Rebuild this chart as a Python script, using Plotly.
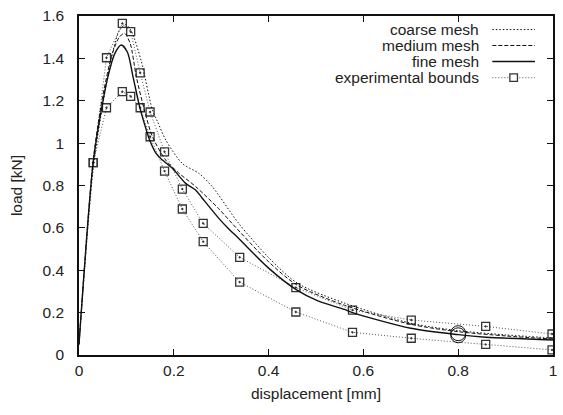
import plotly.graph_objects as go

# Load-displacement curves for three mesh refinements
coarse_x = [0, 0.03, 0.05, 0.07, 0.085, 0.098, 0.11, 0.131, 0.155, 0.166, 0.183, 0.218,
            0.253, 0.281, 0.337, 0.40, 0.46, 0.56, 0.70, 0.80, 0.90, 1.0]
coarse_y = [0.05, 0.88, 1.18, 1.42, 1.53, 1.56, 1.53, 1.39, 1.156, 1.10, 1.015, 0.904,
            0.857, 0.795, 0.621, 0.46, 0.34, 0.245, 0.15, 0.115, 0.095, 0.08]

medium_x = [0, 0.03, 0.05, 0.07, 0.085, 0.096, 0.108, 0.121, 0.138, 0.155, 0.183, 0.21,
            0.246, 0.295, 0.323, 0.40, 0.46, 0.56, 0.70, 0.80, 0.90, 1.0]
medium_y = [0.05, 0.92, 1.22, 1.42, 1.50, 1.518, 1.47, 1.313, 1.156, 1.03, 0.92, 0.86,
            0.795, 0.69, 0.621, 0.44, 0.33, 0.235, 0.145, 0.11, 0.09, 0.075]

fine_x = [0, 0.03, 0.047, 0.061, 0.075, 0.089, 0.102, 0.114, 0.128, 0.142, 0.149, 0.163,
          0.176, 0.197, 0.225, 0.246, 0.26, 0.295, 0.316, 0.337, 0.40, 0.459, 0.504,
          0.56, 0.577, 0.70, 0.80, 0.858, 1.0]
fine_y = [0.05, 0.91, 1.156, 1.313, 1.42, 1.463, 1.43, 1.313, 1.171, 1.062, 1.015, 0.95,
          0.92, 0.881, 0.81, 0.779, 0.74, 0.645, 0.595, 0.55, 0.41, 0.307, 0.255,
          0.215, 0.20, 0.126, 0.096, 0.084, 0.071]

# Experimental upper and lower bounds
exp_x = [0.03, 0.058, 0.0914, 0.109, 0.129, 0.150, 0.1805, 0.218, 0.262, 0.339, 0.4575,
         0.577, 0.701, 0.858, 0.998]
exp_upper = [0.9075, 1.403, 1.565, 1.526, 1.332, 1.147, 0.959, 0.783, 0.621, 0.461, 0.318,
             0.212, 0.165, 0.135, 0.099]
exp_lower = [0.9075, 1.167, 1.243, 1.221, 1.167, 1.030, 0.868, 0.689, 0.535, 0.344, 0.203,
             0.107, 0.079, 0.050, 0.024]

# Marked points on the fine-mesh curve
mark_x = [0.8, 0.8]
mark_y = [0.103, 0.093]

x_ticks = [0, 0.2, 0.4, 0.6, 0.8, 1.0]
x_labels = ["0", "0.2", "0.4", "0.6", "0.8", "1"]
y_ticks = [0, 0.2, 0.4, 0.6, 0.8, 1.0, 1.2, 1.4, 1.6]
y_labels = ["0", "0.2", "0.4", "0.6", "0.8", "1", "1.2", "1.4", "1.6"]

legend_labels = ["coarse mesh", "medium mesh", "fine mesh", "experimental bounds"]

FONT = "Liberation Sans, Arial, sans-serif"
FS = 15.5
BLACK = "#111111"
GREY = "#555555"
TEXT = "#222222"

fig = go.Figure()

for ey in (exp_upper, exp_lower):
    fig.add_trace(go.Scatter(
        x=exp_x, y=ey, mode="lines+markers",
        line=dict(color=GREY, width=1, dash="1px,2px"),
        marker=dict(symbol="square-open-dot", size=8, color="#333333",
                    line=dict(width=1.3, color="#333333")),
        showlegend=False))

fig.add_trace(go.Scatter(
    x=coarse_x, y=coarse_y, mode="lines",
    line=dict(color=BLACK, width=1, dash="1.5px,2px", shape="spline", smoothing=0.8),
    showlegend=False))
fig.add_trace(go.Scatter(
    x=medium_x, y=medium_y, mode="lines",
    line=dict(color=BLACK, width=1, dash="4px,2px", shape="spline", smoothing=0.8),
    showlegend=False))
fig.add_trace(go.Scatter(
    x=fine_x, y=fine_y, mode="lines",
    line=dict(color=BLACK, width=1.4, shape="spline", smoothing=0.8),
    showlegend=False))
fig.add_trace(go.Scatter(
    x=mark_x, y=mark_y, mode="markers",
    marker=dict(symbol="circle-open", size=15, color=BLACK, line=dict(width=1)),
    showlegend=False))

# Key in the upper-right corner: right-aligned labels with line samples after them
rows_y = [0.960, 0.913, 0.866, 0.818]
dashes = ["1.5px,2px", "4px,2px", "solid", "1px,2px"]
widths = [1, 1, 1.4, 1]
colors = [BLACK, BLACK, BLACK, GREY]
for label, ry, d, w, c in zip(legend_labels, rows_y, dashes, widths, colors):
    fig.add_annotation(x=0.849, y=ry, xref="paper", yref="paper", text=label,
                       showarrow=False, xanchor="right", yanchor="middle",
                       font=dict(family=FONT, size=FS, color=TEXT))
    fig.add_shape(type="line", xref="paper", yref="paper",
                  x0=0.872, x1=0.962, y0=ry, y1=ry,
                  line=dict(color=c, width=w, dash=d))
fig.add_shape(type="rect", xref="paper", yref="paper",
              x0=0.917 - 0.008, x1=0.917 + 0.008,
              y0=rows_y[3] - 0.011, y1=rows_y[3] + 0.011,
              line=dict(color="#333333", width=1.3), fillcolor="white")

axis_common = dict(
    showline=True, linecolor=BLACK, linewidth=1.5, mirror="ticks",
    ticks="inside", ticklen=6, tickwidth=1, tickcolor=BLACK,
    showgrid=False, zeroline=False,
    tickfont=dict(family=FONT, size=FS, color=TEXT),
)

fig.update_xaxes(range=[0, 1], tickvals=x_ticks, ticktext=x_labels,
                 ticklabelstandoff=1,
                 title=dict(text="displacement [mm]", standoff=10,
                            font=dict(family=FONT, size=FS, color=TEXT)),
                 **axis_common)
fig.update_yaxes(range=[0, 1.6], tickvals=y_ticks, ticktext=y_labels,
                 ticklabelstandoff=10,
                 title=dict(text="load [kN]", standoff=16,
                            font=dict(family=FONT, size=FS, color=TEXT)),
                 **axis_common)

fig.update_layout(
    width=563, height=415,
    margin=dict(l=79, r=6, t=16, b=60),
    plot_bgcolor="white", paper_bgcolor="white",
    showlegend=False,
)

fig.write_html("out.html")
